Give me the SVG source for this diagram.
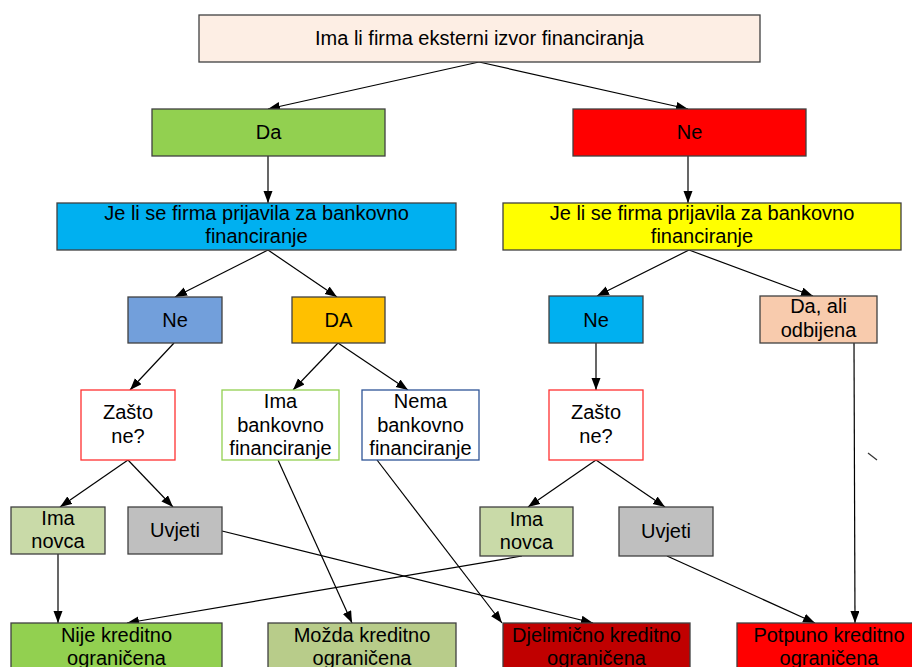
<svg xmlns="http://www.w3.org/2000/svg" width="912" height="667" viewBox="0 0 912 667">
<style>
.b{stroke:#404040;stroke-width:1.3}
text{font-family:"Liberation Sans",Arial,sans-serif;font-size:20px;fill:#000;text-anchor:middle}
.c line{stroke:#000;stroke-width:1.2;marker-end:url(#ah)}
</style>
<defs>
<marker id="ah" markerUnits="userSpaceOnUse" markerWidth="13" markerHeight="10" refX="12" refY="4.5" orient="auto">
<path d="M0,0 L12,4.5 L0,9 z" fill="#000"/>
</marker>
</defs>
<rect width="912" height="667" fill="#fff"/>
<g class="c" id="connectors">
<line x1="479" y1="62" x2="268" y2="109"/>
<line x1="479" y1="62" x2="688" y2="109"/>
<line x1="268" y1="156" x2="268" y2="203"/>
<line x1="688" y1="156" x2="688" y2="203"/>
<line x1="268" y1="250" x2="175" y2="297"/>
<line x1="268" y1="250" x2="337" y2="297"/>
<line x1="689" y1="250" x2="597" y2="296"/>
<line x1="689" y1="250" x2="813" y2="296"/>
<line x1="174" y1="343" x2="130" y2="390"/>
<line x1="338" y1="343" x2="293" y2="390"/>
<line x1="338" y1="343" x2="408" y2="390"/>
<line x1="596" y1="343" x2="596" y2="390"/>
<line x1="128" y1="460" x2="60" y2="507"/>
<line x1="128" y1="460" x2="173" y2="507"/>
<line x1="596" y1="460" x2="528" y2="507"/>
<line x1="596" y1="460" x2="665" y2="507"/>
<line x1="58" y1="554" x2="58" y2="623"/>
<line x1="522" y1="556" x2="127" y2="623"/>
<line x1="222" y1="531" x2="593" y2="623"/>
<line x1="278" y1="460" x2="352" y2="623"/>
<line x1="377" y1="460" x2="502" y2="623"/>
<line x1="667" y1="556" x2="815" y2="623"/>
<line x1="854" y1="343" x2="855" y2="623"/>
<line x1="868" y1="453" x2="877" y2="460" style="marker-end:none;stroke:#333"/>
</g>
<g id="n_top"><rect class="b" x="199" y="15" width="561" height="47" fill="#FDEEE4"/><text x="479.5" y="45">Ima li firma eksterni izvor financiranja</text></g>
<g id="n_da"><rect class="b" x="152" y="109" width="233" height="47" fill="#92D050"/><text x="268.5" y="139">Da</text></g>
<g id="n_ne"><rect class="b" x="573" y="109" width="233" height="47" fill="#FF0000"/><text x="689.5" y="139">Ne</text></g>
<g id="n_q1"><rect class="b" x="57" y="203" width="399" height="47" fill="#00B0F0"/><text x="256.5" y="220">Je li se firma prijavila za bankovno</text><text x="256.5" y="243">financiranje</text></g>
<g id="n_q2"><rect class="b" x="503" y="203" width="398" height="47" fill="#FFFF00"/><text x="702" y="220">Je li se firma prijavila za bankovno</text><text x="702" y="243">financiranje</text></g>
<g id="n_ne1"><rect class="b" x="128" y="297" width="94" height="46" fill="#729FDB"/><text x="175" y="327">Ne</text></g>
<g id="n_da1"><rect class="b" x="292" y="297" width="93" height="46" fill="#FFC000"/><text x="338.5" y="327">DA</text></g>
<g id="n_ne2"><rect class="b" x="549" y="296" width="94" height="47" fill="#00B0F0"/><text x="596" y="327">Ne</text></g>
<g id="n_odb"><rect class="b" x="760" y="296" width="117" height="47" fill="#F8CBAD"/><text x="818.5" y="313">Da, ali</text><text x="818.5" y="337">odbijena</text></g>
<g id="n_z1"><rect x="81" y="390" width="94" height="70" fill="#fff" stroke="#FF3030" stroke-width="1.3"/><text x="128" y="419">Zašto</text><text x="128" y="443">ne?</text></g>
<g id="n_ima"><rect x="222" y="390" width="117" height="70" fill="#fff" stroke="#92D050" stroke-width="1.3"/><text x="280.5" y="408">Ima</text><text x="280.5" y="432">bankovno</text><text x="280.5" y="455">financiranje</text></g>
<g id="n_nema"><rect x="362" y="390" width="117" height="70" fill="#fff" stroke="#2F5597" stroke-width="1.3"/><text x="420.5" y="408">Nema</text><text x="420.5" y="432">bankovno</text><text x="420.5" y="455">financiranje</text></g>
<g id="n_z2"><rect x="549" y="390" width="94" height="70" fill="#fff" stroke="#FF3030" stroke-width="1.3"/><text x="596" y="419">Zašto</text><text x="596" y="443">ne?</text></g>
<g id="n_novac1"><rect class="b" x="11" y="507" width="94" height="47" fill="#C9DAA8"/><text x="58" y="525">Ima</text><text x="58" y="548">novca</text></g>
<g id="n_uvj1"><rect class="b" x="128" y="507" width="94" height="47" fill="#BFBFBF"/><text x="175" y="537">Uvjeti</text></g>
<g id="n_novac2"><rect class="b" x="480" y="507" width="93" height="49" fill="#C9DAA8"/><text x="526.5" y="526">Ima</text><text x="526.5" y="549">novca</text></g>
<g id="n_uvj2"><rect class="b" x="619" y="507" width="94" height="49" fill="#BFBFBF"/><text x="666" y="538">Uvjeti</text></g>
<g id="n_nije"><rect class="b" x="11" y="623" width="211" height="60" fill="#92D050"/><text x="116.5" y="642">Nije kreditno</text><text x="116.5" y="665">ograničena</text></g>
<g id="n_mozda"><rect class="b" x="268" y="623" width="188" height="60" fill="#B8CC8A"/><text x="362" y="642">Možda kreditno</text><text x="362" y="665">ograničena</text></g>
<g id="n_djel"><rect class="b" x="503" y="623" width="187" height="60" fill="#C00000"/><text x="596.5" y="642">Djelimično kreditno</text><text x="596.5" y="665">ograničena</text></g>
<g id="n_potp"><rect class="b" x="737" y="623" width="184" height="60" fill="#FF0000"/><text x="829" y="642">Potpuno kreditno</text><text x="829" y="665">ograničena</text></g>
</svg>
